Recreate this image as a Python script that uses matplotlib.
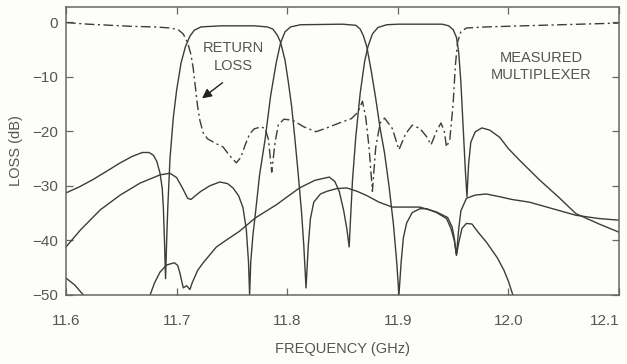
import matplotlib
matplotlib.use('Agg')
import matplotlib.pyplot as plt

# return loss (dash-dot), frequency in GHz, loss in dB
rl_freq = [11.600, 11.620, 11.640, 11.660, 11.680, 11.695, 11.702, 11.706, 11.710, 11.713,
           11.715, 11.717, 11.719, 11.721, 11.724, 11.728, 11.735, 11.742, 11.748, 11.754,
           11.758, 11.762, 11.766, 11.770, 11.776, 11.780, 11.783, 11.786, 11.789, 11.792,
           11.797, 11.805, 11.815, 11.826, 11.837, 11.847, 11.858, 11.864, 11.868, 11.871,
           11.874, 11.877, 11.880, 11.884, 11.888, 11.895, 11.901, 11.907, 11.913, 11.920,
           11.926, 11.930, 11.935, 11.939, 11.942, 11.944, 11.947, 11.950, 11.952, 11.954,
           11.957, 11.962, 11.980, 12.030, 12.100]
rl_loss = [-0.1, -0.4, -0.6, -0.8, -0.9, -1.1, -1.5, -2.2, -3.8, -6.0,
           -8.5, -12.0, -15.5, -18.0, -20.3, -21.4, -22.2, -22.9, -24.5, -25.8,
           -24.8, -22.5, -20.5, -19.6, -19.2, -19.5, -21.5, -27.5, -22.0, -18.8,
           -17.8, -18.0, -19.2, -20.1, -19.3, -18.5, -17.7, -16.5, -14.5, -17.5,
           -23.0, -31.0, -23.0, -18.5, -17.6, -19.5, -23.4, -20.5, -18.9, -19.5,
           -21.0, -22.5, -20.0, -18.5, -20.0, -22.9, -21.5, -15.0, -8.0, -3.7,
           -1.8, -1.1, -0.9, -0.6, -0.2]

# channel 1
ch1_freq = [11.600, 11.612, 11.624, 11.637, 11.649, 11.660, 11.669, 11.675, 11.679, 11.682,
            11.685, 11.687, 11.688, 11.689, 11.690, 11.691, 11.692, 11.694, 11.697, 11.700,
            11.704, 11.708, 11.712, 11.716, 11.722, 11.740, 11.770, 11.782, 11.787, 11.791,
            11.794, 11.798, 11.801, 11.804, 11.807, 11.810, 11.813, 11.815, 11.817, 11.819,
            11.821, 11.824, 11.830, 11.836, 11.845, 11.854, 11.863, 11.872, 11.883, 11.895,
            11.920, 11.935, 11.945, 11.949, 11.951, 11.953, 11.955, 11.957, 11.962, 11.970,
            11.980, 11.992, 12.003, 12.019, 12.040, 12.061, 12.082, 12.100]
ch1_loss = [-31.3, -30.2, -28.9, -27.3, -25.8, -24.6, -23.9, -23.9, -24.4, -25.5,
            -27.7, -30.5, -34.0, -40.0, -47.0, -40.0, -34.0, -25.0, -17.5, -12.5,
            -7.5, -4.5, -2.6, -1.5, -0.9, -0.7, -0.7, -0.9, -1.3, -2.4,
            -3.7, -7.0, -11.0, -15.5, -21.5, -28.0, -35.0, -41.0, -48.7, -41.0,
            -36.0, -33.0, -31.5, -31.0, -30.5, -30.4, -31.0, -31.8, -33.0, -33.9,
            -33.9, -34.8, -35.8, -37.5, -39.5, -42.7, -38.0, -34.6, -32.3, -31.7,
            -31.5, -32.0, -32.5, -33.0, -34.2, -35.4, -36.0, -36.3]

# channel 2
ch2_freq = [11.600, 11.613, 11.631, 11.649, 11.667, 11.685, 11.694, 11.700, 11.705, 11.710,
            11.713, 11.717, 11.722, 11.730, 11.739, 11.746, 11.751, 11.756, 11.760, 11.763,
            11.765, 11.766, 11.767, 11.769, 11.771, 11.775, 11.780, 11.785, 11.790, 11.794,
            11.798, 11.803, 11.812, 11.850, 11.862, 11.866, 11.869, 11.872, 11.876, 11.880,
            11.884, 11.888, 11.892, 11.896, 11.899, 11.901, 11.903, 11.905, 11.908, 11.913,
            11.920, 11.926, 11.935, 11.944, 11.948, 11.951, 11.953, 11.955, 11.958, 11.962,
            11.967, 11.973, 11.980, 11.990, 11.996, 12.000, 12.004, 12.008]
ch2_loss = [-41.2, -38.1, -34.4, -31.7, -29.5, -28.0, -27.7, -28.5, -30.3, -32.3,
            -32.5, -31.8, -31.0, -30.0, -29.3, -29.6, -30.4, -31.8, -34.0, -38.0,
            -44.0, -50.0, -44.0, -39.0, -35.5, -28.0, -21.5, -13.5, -7.5, -3.8,
            -1.8, -0.9, -0.5, -0.4, -0.6, -1.3, -2.6, -4.6, -9.0, -14.0,
            -19.5, -24.0, -30.0, -37.0, -44.0, -50.0, -44.0, -39.5, -36.8, -34.9,
            -34.2, -34.2, -34.9, -36.0, -37.8, -40.0, -42.7, -40.5, -37.8, -36.9,
            -37.0, -38.6, -40.3, -43.2, -45.5, -47.5, -50.0, -52.0]

# channel 3
ch3_freq = [11.600, 11.608, 11.617, 11.630, 11.650, 11.665, 11.676, 11.680, 11.685, 11.691,
            11.698, 11.701, 11.703, 11.706, 11.709, 11.712, 11.714, 11.719, 11.724, 11.736,
            11.746, 11.757, 11.771, 11.790, 11.811, 11.825, 11.838, 11.843, 11.847, 11.851,
            11.854, 11.856, 11.857, 11.859, 11.862, 11.866, 11.870, 11.873, 11.877, 11.882,
            11.890, 11.900, 11.940, 11.946, 11.950, 11.953, 11.955, 11.957, 11.959, 11.961,
            11.9625, 11.964, 11.966, 11.970, 11.976, 11.983, 11.992, 12.000, 12.010, 12.028,
            12.046, 12.061, 12.082, 12.100]
ch3_loss = [-46.9, -48.2, -50.3, -53.0, -55.0, -53.0, -50.0, -47.8, -45.8, -44.5,
            -44.1, -44.6, -46.0, -48.7, -48.3, -49.0, -47.8, -45.5, -44.1, -41.2,
            -39.8, -38.3, -35.9, -33.5, -30.4, -29.0, -28.4, -29.2, -31.0, -34.5,
            -38.0, -41.2, -37.0, -29.0, -21.0, -13.0, -7.2, -4.5, -2.2, -1.0,
            -0.5, -0.4, -0.4, -0.7, -1.4, -2.8, -5.5, -11.0, -19.0, -27.0,
            -32.0, -26.0, -22.0, -20.1, -19.4, -19.8, -21.1, -23.2, -25.3, -28.9,
            -32.2, -35.1, -37.0, -38.5]

x_ticks = [11.6, 11.7, 11.8, 11.9, 12.0, 12.1]
x_tick_labels = ['11.6', '11.7', '11.8', '11.9', '12.0', '12.1']
y_ticks = [0, -10, -20, -30, -40, -50]
y_tick_labels = ['0', '\u221210', '\u221220', '\u221230', '\u221240', '\u221250']


def main():
    plt.rc('font', family=['Liberation Sans', 'DejaVu Sans'], size=11)
    ink = '#3c3c3c'
    text_c = '#555555'

    fig = plt.figure(figsize=(6.27, 3.64), dpi=100, facecolor='#fdfdfa')
    ax = fig.add_axes([0.1053, 0.1896, 0.882, 0.7912])
    ax.set_facecolor('#fdfdfa')

    for f, l in [(ch1_freq, ch1_loss), (ch2_freq, ch2_loss), (ch3_freq, ch3_loss)]:
        ax.plot(f, l, color=ink, lw=1.0, solid_joinstyle='round')
    ax.plot(rl_freq, rl_loss, color=ink, lw=1.0, linestyle=(0, (7, 2.5, 1.5, 2.5)))

    ax.set_xlim(11.6, 12.1)
    ax.set_ylim(-50, 2.75)
    ax.set_xticks(x_ticks)
    ax.set_xticklabels(x_tick_labels)
    ax.set_yticks(y_ticks)
    ax.set_yticklabels(y_tick_labels)
    ax.tick_params(direction='in', length=5, width=0.9, color='#666666',
                   labelcolor=text_c, top=True, right=True, labelsize=11)
    ax.tick_params(axis='x', pad=14)
    ax.tick_params(axis='y', pad=6)
    # last x label would run off the right edge
    ax.get_xticklabels()[-1].set_horizontalalignment('right')
    for s in ax.spines.values():
        s.set_color('#666666')
        s.set_linewidth(1.1)

    ax.set_xlabel('FREQUENCY (GHz)', color=text_c, fontsize=10.5, labelpad=10)
    ax.set_ylabel('LOSS (dB)', color=text_c, fontsize=10.5, labelpad=6)

    ax.text(11.751, -6.4, 'RETURN\nLOSS', ha='center', va='center',
            color=text_c, fontsize=10.5, linespacing=1.3)
    ax.annotate('', xy=(11.721, -14.3), xytext=(11.7435, -10.8),
                arrowprops=dict(arrowstyle='-|>', color='#222222', lw=1.0,
                                mutation_scale=14))
    ax.text(12.03, -8.2, 'MEASURED\nMULTIPLEXER', ha='center', va='center',
            color=text_c, fontsize=10.5, linespacing=1.3)

    fig.savefig('out.png', dpi=100, facecolor=fig.get_facecolor())
    plt.close(fig)


if __name__ == '__main__':
    main()
